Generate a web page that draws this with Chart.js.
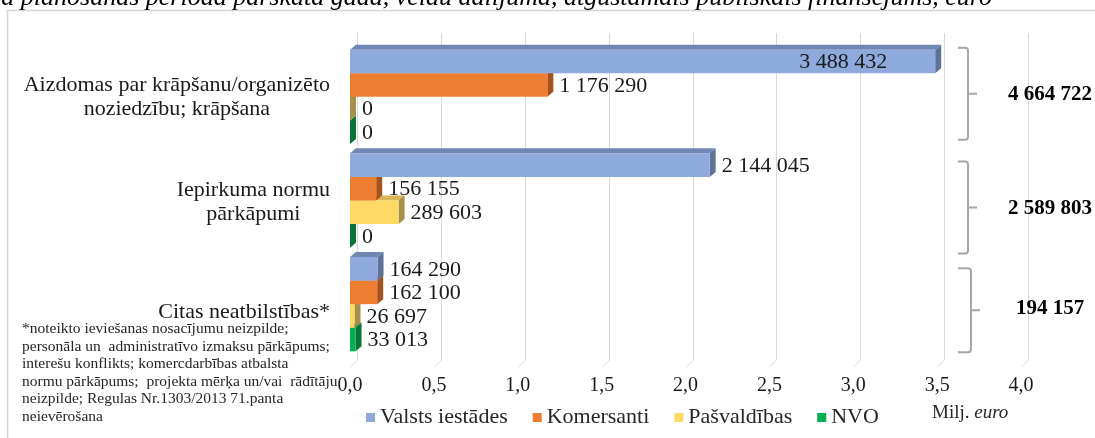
<!DOCTYPE html>
<html>
<head>
<meta charset="utf-8">
<script src="https://cdn.jsdelivr.net/npm/chart.js@4/dist/chart.umd.min.js"></script>
<style>
  html, body { margin: 0; padding: 0; background: #fff; }
  #wrap { width: 1095px; height: 438px; position: relative; }
</style>
</head>
<body>
<div id="wrap"><canvas id="chart"></canvas></div>
<script>
// dati (euro)
const categories = [
  ["Aizdomas par krāpšanu/organizēto", "noziedzību; krāpšana"],
  ["Iepirkuma normu", "pārkāpumi"],
  ["Citas neatbilstības*"]
];
const seriesNames = ["Valsts iestādes", "Komersanti", "Pašvaldības", "NVO"];
const valstsIestades = [3488432, 2144045, 164290];
const komersanti = [1176290, 156155, 162100];
const pasvaldibas = [0, 289603, 26697];
const nvo = [0, 0, 33013];
const totals = [4664722, 2589803, 194157];
const xMin = 0, xMax = 4, xStep = 0.5;   // Milj. euro
const unitLabel = ["Milj. ", "euro"];
const footnoteLines = [
  "*noteikto ieviešanas nosacījumu neizpilde;",
  "personāla un  administratīvo izmaksu pārkāpums;",
  "interešu konflikts; komercdarbības atbalsta",
  "normu pārkāpums;  projekta mērķa un/vai  rādītāju",
  "neizpilde; Regulas Nr.1303/2013 71.panta",
  "neievērošana"
];
const titleText = "Neatbilstības 2014.–2020.gada plānošanas periodā pārskata gadā, veidu dalījumā, atgūstamais publiskais finansējums, euro";

// krāsas: priekša, augša, sāns
const colFront = ["#8EA9DB", "#ED7D31", "#FFD966", "#00B050"];
const colTop   = ["#6F86B2", "#C9682A", "#D6B655", "#00903F"];
const colSide  = ["#5F7399", "#A5531C", "#A8904A", "#0A7535"];

const SERIF = "'Liberation Serif', 'Times New Roman', serif";
const DX = 6, DY = 5;        // stabiņu dziļums
const WALL = 7;              // aizmugures sienas nobīde

function fmt(n) {
  return String(n).replace(/\B(?=(\d{3})+(?!\d))/g, " ");
}

const rawSeries = [valstsIestades, komersanti, pasvaldibas, nvo];

// ✅ rāmis un nogrieztais virsraksts
const framePlugin = {
  id: "frame",
  beforeDraw(chart) {
    const ctx = chart.ctx;
    ctx.save();
    ctx.strokeStyle = "#d4d4d4";
    ctx.lineWidth = 1.5;
    ctx.strokeRect(7.5, 10.5, 1200, 500);
    ctx.fillStyle = "#000";
    ctx.font = "italic 26px " + SERIF;
    ctx.textAlign = "right";
    ctx.textBaseline = "alphabetic";
    ctx.fillText(titleText, 992, 5);
    ctx.restore();
  }
};

// ✅ 3D režģis un stabiņu sāni
const threeDPlugin = {
  id: "threeD",
  beforeDatasetsDraw(chart) {
    const ctx = chart.ctx;
    const xs = chart.scales.x;
    const area = chart.chartArea;
    ctx.save();
    ctx.strokeStyle = "#d9d9d9";
    ctx.lineWidth = 1;
    for (let v = xMin; v <= xMax + 1e-9; v += xStep) {
      const px = Math.round(xs.getPixelForValue(v)) + 0.5;
      ctx.beginPath();
      ctx.moveTo(px + WALL, 33);
      ctx.lineTo(px + WALL, area.bottom + 4);
      ctx.lineTo(px, area.bottom + 11);
      ctx.stroke();
    }
    // no apakšējās sērijas uz augšējo
    for (let d = chart.data.datasets.length - 1; d >= 0; d--) {
      const meta = chart.getDatasetMeta(d);
      meta.data.forEach(bar => {
        const p = bar.getProps(["x", "y", "base", "height"], true);
        const x0 = p.base, x1 = p.x;
        const top = p.y - p.height / 2, bot = p.y + p.height / 2;
        ctx.fillStyle = colTop[d];
        ctx.beginPath();
        ctx.moveTo(x0, top);
        ctx.lineTo(x0 + DX, top - DY);
        ctx.lineTo(x1 + DX, top - DY);
        ctx.lineTo(x1, top);
        ctx.closePath();
        ctx.fill();
        ctx.fillStyle = colSide[d];
        ctx.beginPath();
        ctx.moveTo(x1, top);
        ctx.lineTo(x1 + DX, top - DY);
        ctx.lineTo(x1 + DX, bot - DY);
        ctx.lineTo(x1, bot);
        ctx.closePath();
        ctx.fill();
      });
    }
    ctx.restore();
  }
};

// ✅ uzraksti, iekavas, kopsummas, leģenda
const textPlugin = {
  id: "texts",
  afterDatasetsDraw(chart) {
    const ctx = chart.ctx;
    const ys = chart.scales.y;
    const area = chart.chartArea;
    ctx.save();
    ctx.textBaseline = "middle";

    // vērtību uzraksti
    ctx.font = "22px " + SERIF;
    ctx.fillStyle = "#1a1a1a";
    chart.data.datasets.forEach((ds, d) => {
      chart.getDatasetMeta(d).data.forEach((bar, i) => {
        const p = bar.getProps(["x", "y"], true);
        const txt = fmt(rawSeries[d][i]);
        const w = ctx.measureText(txt).width;
        let x = p.x + DX + 6;
        if (x + w > area.right - 40) {
          ctx.textAlign = "right";
          ctx.fillText(txt, p.x - 48, p.y + 1);
        } else {
          ctx.textAlign = "left";
          ctx.fillText(txt, x, p.y + 1);
        }
      });
    });

    // kategoriju nosaukumi
    const labelShift = [0, 2, 8];
    ctx.font = "22px " + SERIF;
    ctx.textAlign = "center";
    categories.forEach((lines, i) => {
      const cy = ys.getPixelForValue(i) + labelShift[i];
      const w = Math.max(...lines.map(l => ctx.measureText(l).width));
      const cx = 330 - w / 2;
      const lh = 24;
      lines.forEach((l, k) => {
        ctx.fillText(l, cx, cy + (k - (lines.length - 1) / 2) * lh);
      });
    });

    // piezīme
    ctx.font = "15.5px " + SERIF;
    ctx.textAlign = "left";
    ctx.fillStyle = "#262626";
    footnoteLines.forEach((l, k) => ctx.fillText(l, 22, 329 + k * 17.6));

    // iekavas un kopsummas
    const brShift = [-3, 7, 6];
    const txtShift = [0, 0, -3];
    ctx.strokeStyle = "#a6a6a6";
    ctx.lineWidth = 2;
    totals.forEach((t, i) => {
      const cy = ys.getPixelForValue(i) + brShift[i];
      const h = i === 2 ? 42 : 46;
      const bx = 968 + (i === 2 ? 3 : 0);
      ctx.beginPath();
      ctx.moveTo(958, cy - h);
      ctx.lineTo(bx - 3, cy - h);
      ctx.quadraticCurveTo(bx, cy - h, bx, cy - h + 3);
      ctx.lineTo(bx, cy + h - 3);
      ctx.quadraticCurveTo(bx, cy + h, bx - 3, cy + h);
      ctx.lineTo(958, cy + h);
      ctx.moveTo(bx, cy);
      ctx.lineTo(bx + 9, cy);
      ctx.stroke();
      ctx.font = "bold 21px " + SERIF;
      ctx.fillStyle = "#000";
      ctx.textAlign = "center";
      ctx.fillText(fmt(t), 1050, cy + 1 + txtShift[i]);
    });

    // leģenda
    ctx.font = "22px " + SERIF;
    ctx.textAlign = "left";
    let lx = 366;
    const ly = 417;
    seriesNames.forEach((name, d) => {
      ctx.fillStyle = colFront[d];
      ctx.fillRect(lx, ly - 4, 9, 9);
      ctx.fillStyle = "#262626";
      ctx.fillText(name, lx + 14, ly);
      lx += 14 + ctx.measureText(name).width + 25;
    });

    // mērvienība
    ctx.font = "19px " + SERIF;
    ctx.fillStyle = "#262626";
    ctx.fillText(unitLabel[0], 932, 413);
    const uw = ctx.measureText(unitLabel[0]).width;
    ctx.font = "italic 19px " + SERIF;
    ctx.fillText(unitLabel[1], 932 + uw, 413);
    ctx.restore();
  }
};

new Chart(document.getElementById("chart"), {
  type: "bar",
  data: {
    labels: categories.map(c => c.join(" ")),
    datasets: seriesNames.map((name, d) => ({
      label: name,
      data: rawSeries[d].map(v => v / 1e6),
      backgroundColor: colFront[d],
      borderWidth: 0,
      categoryPercentage: 0.91,
      barPercentage: 1.0
    }))
  },
  options: {
    indexAxis: "y",
    responsive: true,
    maintainAspectRatio: false,
    animation: false,
    layout: { padding: { left: 350, right: 74, top: 45, bottom: 30 } },
    plugins: {
      legend: { display: false },
      tooltip: { enabled: false }
    },
    scales: {
      x: {
        min: xMin,
        max: xMax,
        grid: { display: false },
        border: { display: false },
        ticks: {
          stepSize: xStep,
          padding: 10,
          color: "#1a1a1a",
          font: { family: SERIF, size: 20 },
          callback: v => v.toFixed(1).replace(".", ",")
        }
      },
      y: {
        display: false
      }
    }
  },
  plugins: [framePlugin, threeDPlugin, textPlugin]
});
</script>
</body>
</html>
